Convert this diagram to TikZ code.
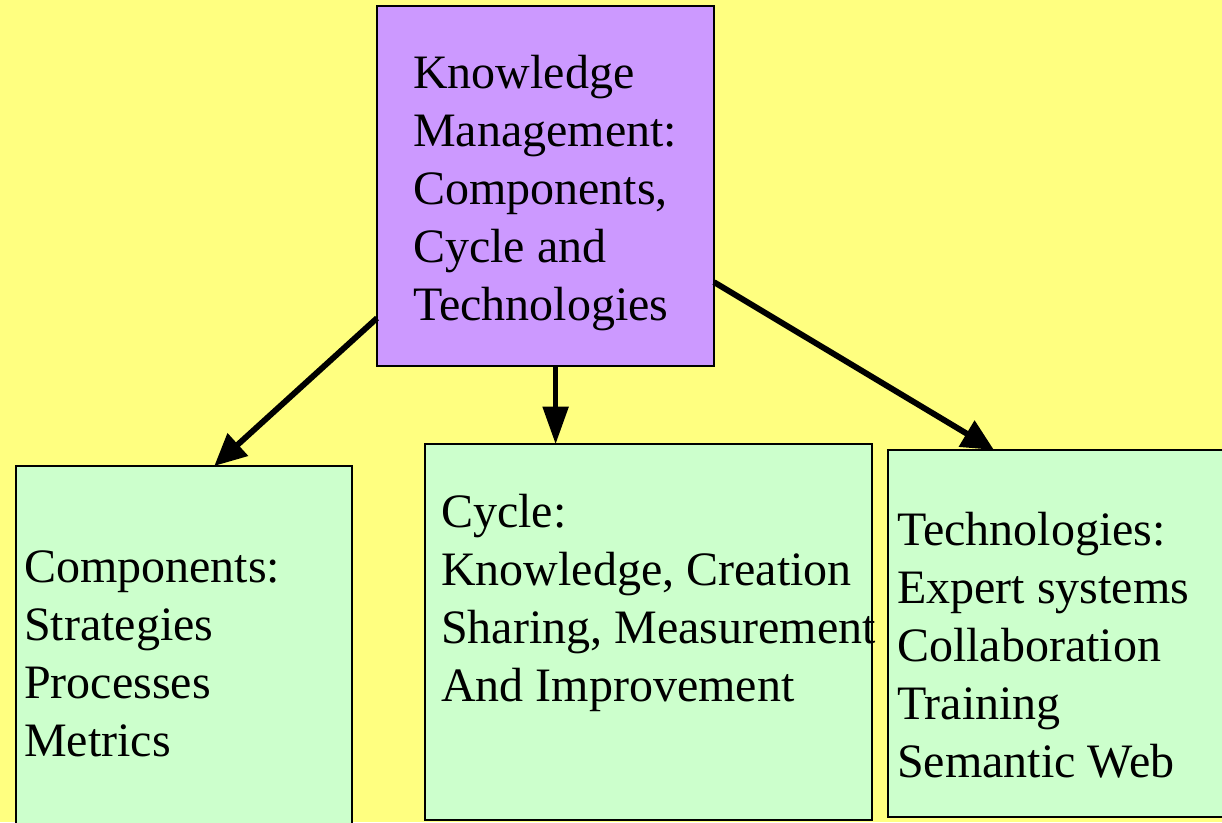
\documentclass[tikz,border=0pt]{standalone}
\usepackage{fontspec}
\setmainfont{Liberation Serif}
\usetikzlibrary{arrows.meta,calc}
\definecolor{bgyellow}{RGB}{255,255,128}
\definecolor{kmpurple}{RGB}{204,153,255}
\definecolor{kmgreen}{RGB}{204,255,204}
\tikzset{
  box/.style={draw,line width=1.6pt,rectangle,inner sep=0pt,outer sep=0pt},
  txt/.style={anchor=north west,inner sep=0pt,align=left,font=\fontsize{36}{43.5}\selectfont},
  arr/.style={line width=4.4pt,-{Triangle[length=24pt,width=22pt]}}
}
\begin{document}
\begin{tikzpicture}[x=0.75pt,y=-0.75pt]
\fill[bgyellow] (0,0) rectangle (1222,822);
\useasboundingbox (0,0) rectangle (1222,822);
\clip (0,0) rectangle (1222,822);
\node[box,fill=kmpurple,minimum width=252.75pt,minimum height=270pt] (km) at (545.5,186) {};
\node[box,fill=kmgreen,minimum width=252pt,minimum height=280.5pt] (comp) at (184,653) {};
\node[box,fill=kmgreen,minimum width=335.25pt,minimum height=282pt] (cyc) at (648.5,632) {};
\node[box,fill=kmgreen,minimum width=256.5pt,minimum height=275.25pt] (tech) at (1059,633.5) {};
\node[txt] (kmtext) at ($(km.north west)+(36,49)$) {Knowledge\\Management:\\Components,\\Cycle and\\Technologies};
\node[txt] (comptext) at ($(comp.north west)+(8,84)$) {Components:\\Strategies\\Processes\\Metrics};
\node[txt] (cyctext) at ($(cyc.north west)+(16,50)$) {Cycle:\\Knowledge, Creation\\Sharing, Measurement\\And Improvement};
\node[txt] (techtext) at ($(tech.north west)+(9,62)$) {Technologies:\\Expert systems\\Collaboration\\Training\\Semantic Web};
\draw[arr] ($(km.south west)!0.133!(km.north west)$) -- ($(comp.north west)!0.59!(comp.north east)$);
\draw[line width=3.2pt,-{Triangle[length=28pt,width=19pt]}] ($(km.south west)!0.53!(km.south east)$) coordinate (mid) -- (mid |- cyc.north);
\draw[arr] ($(km.north east)!0.767!(km.south east)$) -- ($(tech.north west)!0.31!(tech.north east)$);
\end{tikzpicture}
\end{document}
